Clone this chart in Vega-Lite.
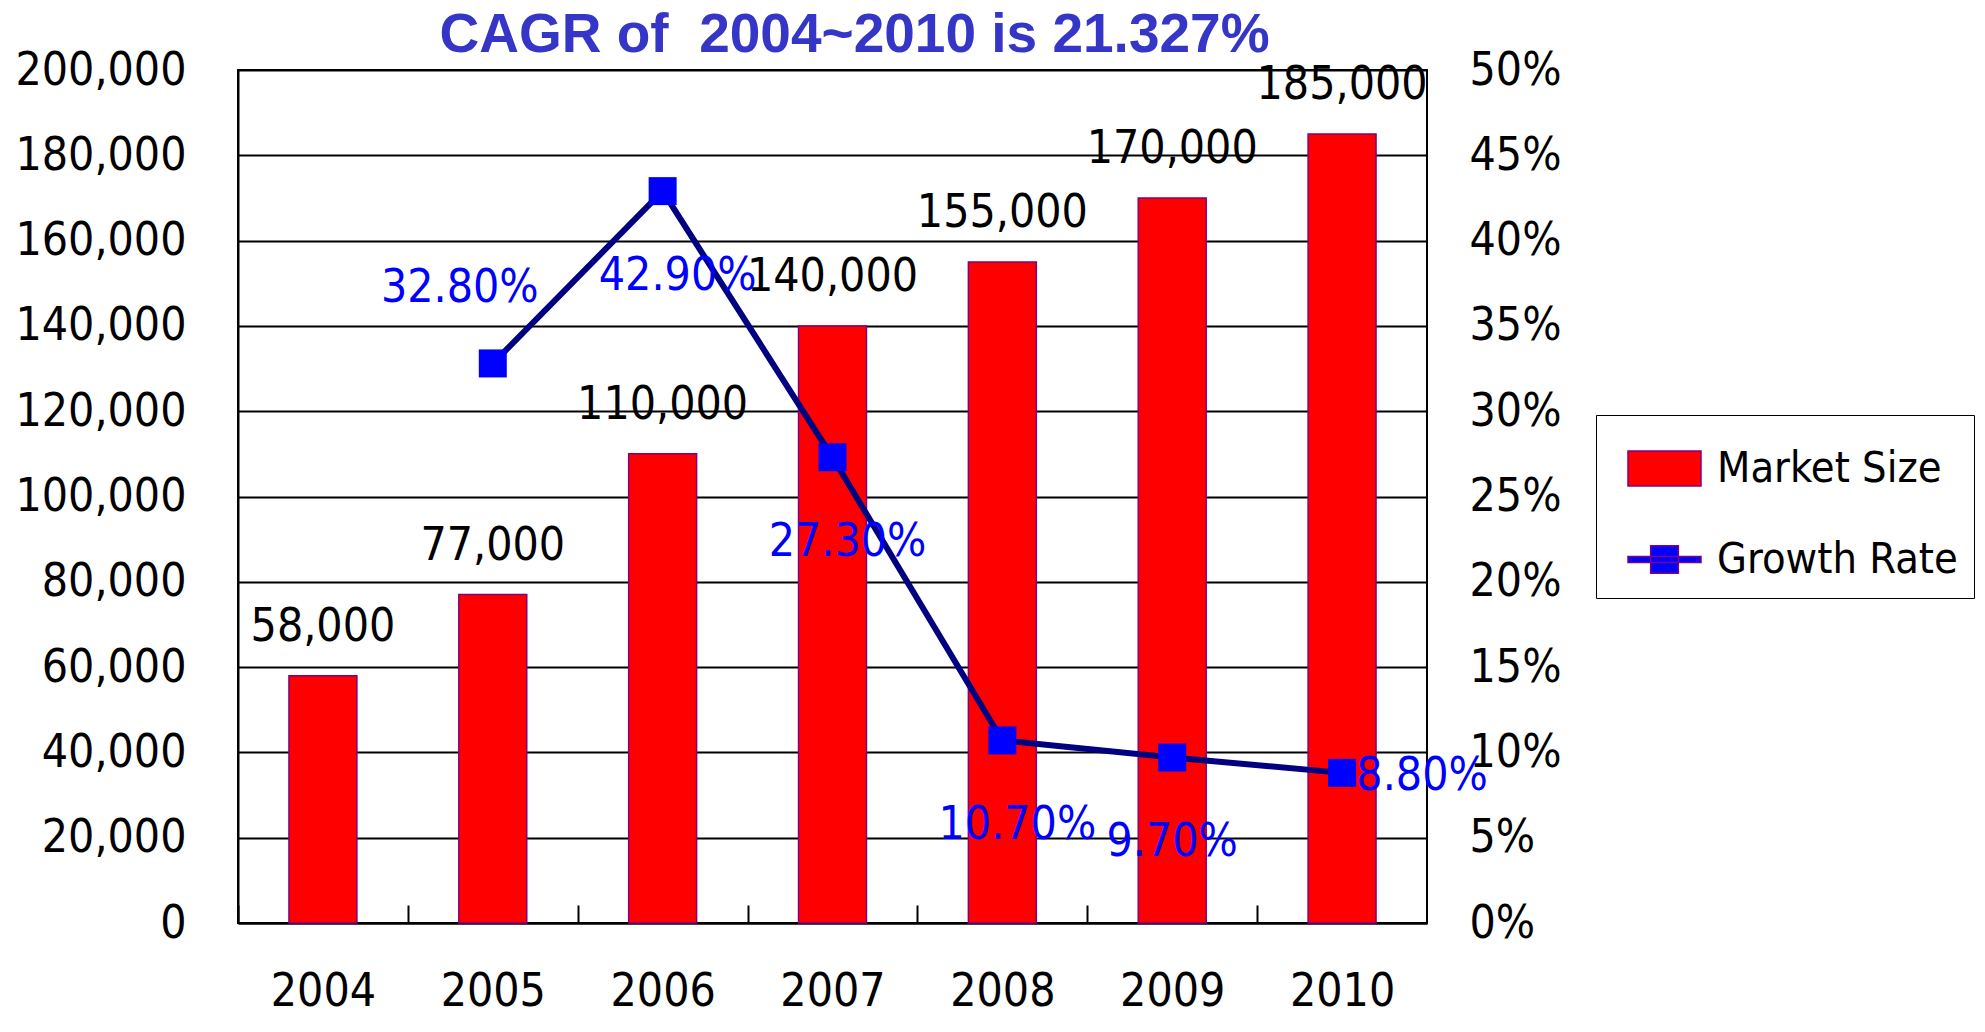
{
  "$schema": "https://vega.github.io/schema/vega-lite/v6.json",
  "autosize": {"type": "none"},
  "width": 1189,
  "height": 853,
  "padding": {"left": 238, "top": 70, "right": 558, "bottom": 109},
  "background": "white",
  "title": {
    "text": "CAGR of\u00a0 2004~2010 is 21.327%",
    "font": "Liberation Sans",
    "fontWeight": "bold",
    "fontSize": 55,
    "color": "#3535C8",
    "anchor": "middle",
    "frame": "group",
    "dx": 22,
    "offset": 0,
    "dy": 17
  },
  "config": {
    "view": {"stroke": "black", "strokeWidth": 2},
    "axis": {
      "labelFont": "DejaVu Sans Condensed",
      "labelFontSize": 46,
      "labelColor": "black",
      "domainColor": "black",
      "domainWidth": 2,
      "tickColor": "black",
      "tickWidth": 2,
      "title": null
    },
    "text": {"font": "DejaVu Sans Condensed", "fontSize": 46}
  },
  "data": {
    "values": [
      {"year": "2004", "market": 58000, "growth": null},
      {"year": "2005", "market": 77000, "growth": 0.328},
      {"year": "2006", "market": 110000, "growth": 0.429},
      {"year": "2007", "market": 140000, "growth": 0.273},
      {"year": "2008", "market": 155000, "growth": 0.107},
      {"year": "2009", "market": 170000, "growth": 0.097},
      {"year": "2010", "market": 185000, "growth": 0.088}
    ]
  },
  "encoding": {
    "x": {
      "field": "year",
      "type": "nominal",
      "scale": {"paddingInner": 0.6, "paddingOuter": 0.3},
      "axis": {
        "labelAngle": 0,
        "tickOffset": -84.9,
        "labelOffset": 84.9,
        "tickSize": -18,
        "labelPadding": 64,
        "grid": false
      }
    }
  },
  "layer": [
    {
      "encoding": {
        "y": {
          "field": "market",
          "type": "quantitative",
          "scale": {"domain": [0, 200000], "nice": false},
          "axis": {
            "orient": "left",
            "values": [0, 20000, 40000, 60000, 80000, 100000, 120000, 140000, 160000, 180000, 200000],
            "format": ",.0f",
            "grid": true,
            "gridColor": "black",
            "gridWidth": 2,
            "gridOpacity": 1,
            "ticks": false,
            "labelPadding": 52
          }
        }
      },
      "layer": [
        {
          "mark": {"type": "bar", "stroke": "#800080", "strokeWidth": 1.5},
          "encoding": {
            "color": {
              "datum": "Market Size",
              "scale": {"domain": ["Market Size", "Growth Rate"], "range": ["#FF0000", "#0000FF"]},
              "legend": {
                "title": null,
                "orient": "none",
                "legendX": 1358,
                "legendY": 345,
                "strokeColor": "black",
                "fillColor": "white",
                "padding": 16,
                "symbolOffset": 15,
                "labelFont": "DejaVu Sans Condensed",
                "labelFontSize": 43,
                "labelColor": "black",
                "labelOffset": 15,
                "labelLimit": 500,
                "symbolSize": 5330,
                "rowPadding": 31,
                "symbolType": {"expr": "datum.value === 'Market Size' ? 'M-1,-0.48H1V0.48H-1Z' : 'M-1,-0.08H1V0.08H-1Z M-0.38,-0.38H0.38V0.38H-0.38Z'"}
              }
            }
          }
        },
        {
          "mark": {"type": "text", "baseline": "alphabetic", "dy": -35, "color": "black"},
          "encoding": {"text": {"field": "market", "type": "quantitative", "format": ","}}
        }
      ]
    },
    {
      "transform": [{"filter": "datum.growth != null"}],
      "encoding": {
        "y": {
          "field": "growth",
          "type": "quantitative",
          "scale": {"domain": [0, 0.5], "nice": false},
          "axis": {
            "orient": "right",
            "values": [0, 0.05, 0.1, 0.15, 0.2, 0.25, 0.3, 0.35, 0.4, 0.45, 0.5],
            "format": ".0%",
            "grid": false,
            "ticks": false,
            "domain": false,
            "labelPadding": 42
          }
        }
      },
      "layer": [
        {
          "mark": {"type": "line", "strokeWidth": 6, "color": "#000080"}
        },
        {
          "mark": {"type": "point", "shape": "square", "filled": true, "size": 784, "color": "#0000FF", "opacity": 1}
        },
        {
          "transform": [{"filter": "datum.year == '2005'"}],
          "mark": {"type": "text", "color": "#0000FF", "baseline": "middle", "dx": -33, "dy": -75},
          "encoding": {"text": {"field": "growth", "type": "quantitative", "format": ".2%"}}
        },
        {
          "transform": [{"filter": "datum.year == '2006' || datum.year == '2007' || datum.year == '2008'"}],
          "mark": {"type": "text", "color": "#0000FF", "baseline": "middle", "dx": 15, "dy": 85},
          "encoding": {"text": {"field": "growth", "type": "quantitative", "format": ".2%"}}
        },
        {
          "transform": [{"filter": "datum.year == '2009'"}],
          "mark": {"type": "text", "color": "#0000FF", "baseline": "middle", "dx": 0, "dy": 84},
          "encoding": {"text": {"field": "growth", "type": "quantitative", "format": ".2%"}}
        },
        {
          "transform": [{"filter": "datum.year == '2010'"}],
          "mark": {"type": "text", "color": "#0000FF", "baseline": "middle", "dx": 80, "dy": 3},
          "encoding": {"text": {"field": "growth", "type": "quantitative", "format": ".2%"}}
        }
      ]
    }
  ],
  "resolve": {"scale": {"y": "independent"}}
}
